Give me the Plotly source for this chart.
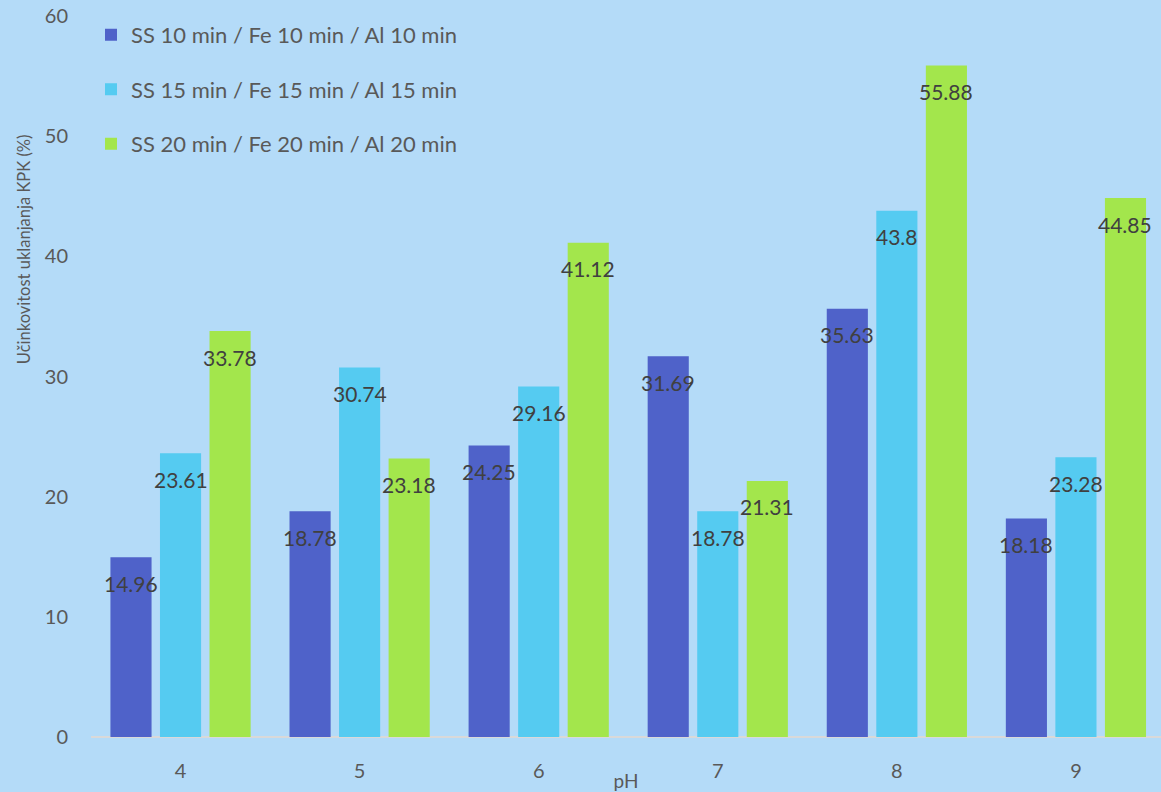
import plotly.graph_objects as go

ph_levels = ["4", "5", "6", "7", "8", "9"]
series_names = [
    "SS 10 min / Fe 10 min / Al 10 min",
    "SS 15 min / Fe 15 min / Al 15 min",
    "SS 20 min / Fe 20 min / Al 20 min",
]
eff_10min = [14.96, 18.78, 24.25, 31.69, 35.63, 18.18]
eff_15min = [23.61, 30.74, 29.16, 18.78, 43.8, 23.28]
eff_20min = [33.78, 23.18, 41.12, 21.31, 55.88, 44.85]
y_ticks = [0, 10, 20, 30, 40, 50, 60]

series_values = [eff_10min, eff_15min, eff_20min]
bar_colors = ["#4f62c9", "#55cbf1", "#a3e64c"]
label_xshift = [-49.5, 0, 49.5]

BG = "#b4dbf8"
TEXT = "#595959"
FONT = "Lato"

fig = go.Figure()
for name, vals, col in zip(series_names, series_values, bar_colors):
    fig.add_trace(go.Bar(
        x=list(range(len(ph_levels))), y=vals, name=name,
        marker=dict(color=col, line=dict(width=0)),
        legendgroup=name,
    ))

# value labels just below the top of each bar
for vals, dx in zip(series_values, label_xshift):
    for i, v in enumerate(vals):
        fig.add_annotation(
            x=i, y=v, xref="x", yref="y", text=f"{v:g}", showarrow=False,
            xshift=dx, yshift=-26, font=dict(family=FONT, size=21, color="#404040"),
        )

fig.add_annotation(
    text="Učinkovitost uklanjanja KPK (%)", textangle=-90,
    xref="paper", yref="y", x=-0.0626, y=40.6, xanchor="center", yanchor="middle",
    showarrow=False,
    font=dict(family=FONT, size=16.5, color=TEXT),
)

fig.update_layout(
    width=1161, height=792,
    paper_bgcolor=BG, plot_bgcolor=BG,
    margin=dict(l=91, r=0, t=16, b=55, autoexpand=False),
    barmode="group", bargap=0.17, bargroupgap=0.17,
    font=dict(family=FONT, size=20, color=TEXT),
    showlegend=True,
    legend=dict(
        x=0.0, y=1.003, xanchor="left", yanchor="top",
        bgcolor="rgba(0,0,0,0)", font=dict(family=FONT, size=22, color=TEXT),
        tracegroupgap=23, itemwidth=30,
    ),
    xaxis=dict(
        range=[-0.5, 5.475], tickmode="array",
        tickvals=list(range(len(ph_levels))), ticktext=ph_levels,
        showgrid=False, zeroline=False, showline=False, ticks="",
        ticklabelstandoff=20, automargin=False,
        title=dict(text="pH", font=dict(family=FONT, size=19, color=TEXT), standoff=0),
    ),
    yaxis=dict(
        range=[0, 60], tickvals=y_ticks, showgrid=False,
        zeroline=True, zerolinecolor="#d9d9d9", zerolinewidth=2,
        showline=False, ticks="", ticklabelstandoff=22, automargin=False,
    ),
)

fig.write_html("out.html")
